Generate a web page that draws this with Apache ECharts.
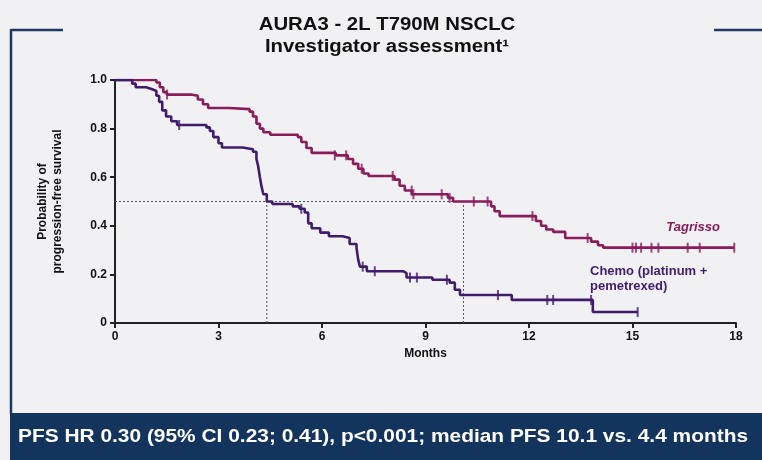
<!DOCTYPE html>
<html>
<head>
<meta charset="utf-8">
<script src="https://cdn.jsdelivr.net/npm/echarts@6/dist/echarts.min.js"></script>
<style>
  html, body { margin: 0; padding: 0; background: #f1f1f4; }
  #chart { width: 762px; height: 460px; }
</style>
</head>
<body>
<div id="chart"></div>
<script>
// KM curves: [months, survival]
let tagrissoCurve = [
    [0, 1.0], [1.2, 0.99], [1.3, 0.97], [1.4, 0.95], [1.5, 0.94], [2.2, 0.935], [2.4, 0.92], [2.55, 0.9],
    [2.7, 0.885], [3.3, 0.88], [3.9, 0.87], [4.0, 0.85], [4.1, 0.82], [4.2, 0.8], [4.3, 0.785], [4.5, 0.775],
    [5.3, 0.765], [5.4, 0.745], [5.55, 0.72], [5.7, 0.7], [6.4, 0.69], [6.75, 0.675], [6.9, 0.655],
    [7.05, 0.635], [7.2, 0.615], [7.35, 0.605], [8.1, 0.59], [8.25, 0.565], [8.4, 0.545], [8.6, 0.53],
    [9.65, 0.515], [9.8, 0.5], [10.9, 0.48], [11.0, 0.46], [11.15, 0.44], [12.2, 0.42], [12.35, 0.4],
    [12.5, 0.385], [12.7, 0.375], [13.05, 0.35], [13.8, 0.335], [14.0, 0.32], [14.15, 0.31], [17.95, 0.31]
];
let tagrissoCensor = [
    [1.51, 0.94], [6.37, 0.69], [6.7, 0.69], [7.15, 0.635], [8.05, 0.605], [8.6, 0.545], [8.65, 0.53],
    [9.47, 0.53], [9.7, 0.515], [10.4, 0.5], [10.8, 0.5], [12.1, 0.44], [13.7, 0.35],
    [15.0, 0.31], [15.1, 0.31], [15.25, 0.31], [15.55, 0.31], [15.75, 0.31], [16.6, 0.31], [16.95, 0.31], [17.95, 0.31]
];
let chemoCurve = [
    [0, 1.0], [0.5, 0.985], [0.6, 0.97], [0.9, 0.962], [1.08, 0.955], [1.2, 0.935], [1.28, 0.91],
    [1.37, 0.875], [1.48, 0.85], [1.63, 0.83], [1.8, 0.815], [2.65, 0.805], [2.75, 0.79], [2.85, 0.765],
    [3.0, 0.74], [3.1, 0.722], [3.7, 0.715], [4.0, 0.705], [4.1, 0.675], [4.15, 0.645], [4.2, 0.6],
    [4.25, 0.56], [4.3, 0.53], [4.4, 0.5], [4.56, 0.49], [5.15, 0.48], [5.35, 0.47], [5.5, 0.455],
    [5.6, 0.41], [5.7, 0.39], [5.95, 0.372], [6.2, 0.357], [6.6, 0.35], [6.8, 0.325], [7.0, 0.31],
    [7.05, 0.26], [7.1, 0.232], [7.3, 0.213], [8.35, 0.205], [8.45, 0.187], [9.2, 0.178], [9.7, 0.166],
    [9.85, 0.137], [10.0, 0.115], [11.5, 0.095], [13.85, 0.045], [15.15, 0.045]
];
let chemoCensor = [
    [1.86, 0.815], [5.4, 0.47], [7.18, 0.232], [7.53, 0.213], [8.55, 0.187], [8.75, 0.187],
    [9.62, 0.178], [11.1, 0.115], [12.53, 0.095], [12.7, 0.095], [13.8, 0.095], [15.15, 0.045]
];
let medians = [4.4, 10.1];

let tagColor = "#8a1c5c";
let chemoColor = "#401c6c";

let chart = echarts.init(document.getElementById("chart"));

// dotted guide lines at median
let medianLines = [
    [[0, 0.5], [medians[1], 0.5]],
    [[medians[0], 0], [medians[0], 0.5]],
    [[medians[1], 0], [medians[1], 0.5]]
];

let option = {
    backgroundColor: "#f1f1f4",
    animation: false,
    grid: {
        left: 115,
        right: 26,
        top: 80,
        bottom: 137
    },
    xAxis: {
        type: "value",
        min: 0,
        max: 18,
        interval: 3,
        name: "Months",
        nameLocation: "middle",
        nameGap: 24,
        nameTextStyle: { fontFamily: "Liberation Sans", fontWeight: "bold", fontSize: 12, color: "#111" },
        axisLine: { lineStyle: { color: "#222", width: 2 } },
        axisTick: { length: 5, lineStyle: { color: "#222", width: 2 } },
        axisLabel: { fontFamily: "Liberation Sans", fontWeight: "bold", fontSize: 12, color: "#111", margin: 8 },
        splitLine: { show: false }
    },
    yAxis: {
        type: "value",
        min: 0,
        max: 1,
        interval: 0.2,
        name: "Probability of\nprogression-free survival",
        nameLocation: "middle",
        nameGap: 50,
        nameTextStyle: { fontFamily: "Liberation Sans", fontWeight: "bold", fontSize: 12, color: "#111", lineHeight: 15 },
        axisLine: { show: true, lineStyle: { color: "#222", width: 2 } },
        axisTick: { show: true, length: 5, lineStyle: { color: "#222", width: 2 } },
        axisLabel: {
            fontFamily: "Liberation Sans", fontWeight: "bold", fontSize: 12, color: "#111", margin: 8,
            formatter: v => v === 0 ? "0" : v.toFixed(1)
        },
        splitLine: { show: false }
    },
    series: [
        ...medianLines.map(seg => ({
            type: "line",
            data: seg,
            showSymbol: false,
            silent: true,
            lineStyle: { color: "#555", width: 1, type: [2, 2] },
            z: 1
        })),
        {
            name: "Tagrisso",
            type: "line",
            step: "end",
            data: tagrissoCurve,
            showSymbol: false,
            lineStyle: { color: tagColor, width: 2.6 },
            z: 3
        },
        {
            name: "Chemo",
            type: "line",
            step: "end",
            data: chemoCurve,
            showSymbol: false,
            lineStyle: { color: chemoColor, width: 2.6 },
            z: 3
        },
        {
            type: "scatter",
            data: tagrissoCensor,
            symbol: "rect",
            symbolSize: [2, 10],
            itemStyle: { color: tagColor },
            z: 4
        },
        {
            type: "scatter",
            data: chemoCensor,
            symbol: "rect",
            symbolSize: [2, 10],
            itemStyle: { color: chemoColor },
            z: 4
        }
    ],
    graphic: [
        // title (stretched slightly like the source slide)
        {
            type: "text", x: 387, y: 25, scaleX: 1.13,
            style: {
                text: "AURA3 - 2L T790M NSCLC", fill: "#111", align: "center", verticalAlign: "middle",
                font: "bold 18px 'Liberation Sans'"
            }
        },
        {
            type: "text", x: 387, y: 47, scaleX: 1.13,
            style: {
                text: "Investigator assessment¹", fill: "#111", align: "center", verticalAlign: "middle",
                font: "bold 18px 'Liberation Sans'"
            }
        },
        // frame lines
        { type: "line", shape: { x1: 11, y1: 30, x2: 63, y2: 30 }, style: { stroke: "#1d3a60", lineWidth: 2.5 } },
        { type: "line", shape: { x1: 11, y1: 29, x2: 11, y2: 414 }, style: { stroke: "#1d3a60", lineWidth: 2.5 } },
        { type: "line", shape: { x1: 714, y1: 30, x2: 762, y2: 30 }, style: { stroke: "#1d3a60", lineWidth: 2.5 } },
        // bottom banner
        { type: "rect", shape: { x: 10, y: 413, width: 752, height: 47 }, style: { fill: "#13345c" } },
        {
            type: "text", x: 383, y: 437, scaleX: 1.1,
            style: {
                text: "PFS HR 0.30 (95% CI 0.23; 0.41), p<0.001; median PFS 10.1 vs. 4.4 months",
                fill: "#ffffff", align: "center", verticalAlign: "middle",
                font: "bold 19px 'Liberation Sans'"
            }
        },
        // series labels
        {
            type: "text", right: 42, top: 221,
            style: { text: "Tagrisso", fill: tagColor, font: "italic bold 13px 'Liberation Sans'" }
        },
        {
            type: "text", left: 590, top: 264,
            style: { text: "Chemo (platinum +\npemetrexed)", fill: chemoColor, font: "bold 13px 'Liberation Sans'", lineHeight: 15 }
        }
    ]
};
chart.setOption(option);
</script>
</body>
</html>
